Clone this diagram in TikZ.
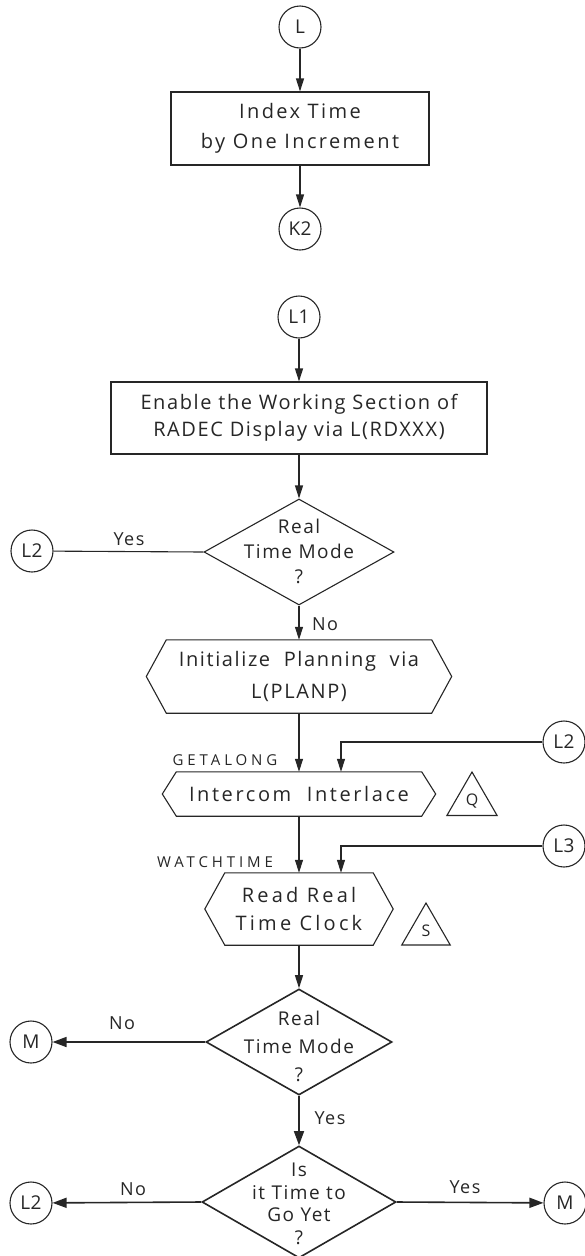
\documentclass[tikz,border=0pt]{standalone}
\usepackage{fontspec}
\setmainfont{Open Sans}[LetterSpace=8]
\usetikzlibrary{arrows.meta,shapes.geometric}

% outline of a process box with pointed left and right ends
\newcommand\hexframe[2]{%
  \draw[ink] (#1.north west) -- (#1.north east) -- ([xshift=#2pt]#1.east)
    -- (#1.south east) -- (#1.south west) -- ([xshift=-#2pt]#1.west) -- cycle;}

\begin{document}
\begin{tikzpicture}[x=1pt,y=-1pt,
  ink/.style={draw=black!85, line width=1.1pt},
  heavy/.style={line width=1.6pt},
  tip/.style={-{Triangle[length=13pt,width=8pt]}},
  bigtip/.style={-{Triangle[length=14pt,width=10pt]}},
  conn/.style={circle, ink, minimum size=42pt, inner sep=0pt, text=black!85,
    font=\fontsize{19}{20}\selectfont\addfontfeatures{LetterSpace=2}},
  box/.style={rectangle, ink, inner sep=0pt, align=center, text=black!85,
    font=\fontsize{20}{30}\selectfont},
  hexcore/.style={rectangle, inner sep=0pt, align=center, text=black!85,
    font=\fontsize{20}{30}\selectfont},
  dia/.style={diamond, ink, inner sep=0pt},
  diatext/.style={align=center, inner sep=0pt, text=black!85},
  lbl/.style={inner sep=0pt, text=black!85, font=\fontsize{18}{20}\selectfont},
  tag/.style={inner sep=0pt, text=black!85,
    font=\fontsize{15}{16}\selectfont\addfontfeatures{LetterSpace=26}},
  tri/.style={regular polygon, regular polygon sides=3, ink, inner sep=0pt,
    text=black!85, font=\fontsize{16}{18}\selectfont},
]
\useasboundingbox (0,0) rectangle (585,1256);

% ---- entry L ----
\node[conn] (L) at (300,27) {L};
\node[box, minimum width=258pt, minimum height=73pt,
  font=\fontsize{20}{30}\selectfont\addfontfeatures{LetterSpace=12}] (b1) at (300,128.5)
  {Index Time\\by One Increment};
\node[conn] (K2) at (300,229) {K2};
\draw[ink,tip] (L) -- (b1);
\draw[ink,tip] (b1) -- (K2);

% ---- entry L1 ----
\node[conn] (L1) at (299,317) {L1};
\node[box, minimum width=376pt, minimum height=72pt,
  font=\fontsize{20}{27}\selectfont] (b2) at (299,418)
  {Enable the Working Section of\\RADEC Display via L(RDXXX)};
\draw[ink,tip] (L1) -- (b2);

\node[dia, minimum width=190pt, minimum height=106pt] (d1) at (299,552) {};
\node[diatext, font=\fontsize{19}{25}\selectfont] (d1t) at (299,551)
  {Real\\Time Mode\\?};
\draw[ink,tip] (b2) -- (d1);

\node[conn] (L2a) at (32,551) {L2};
\draw[ink] (d1.west) -- (L2a);
\node[lbl] (yes1) at (129,539) {Yes};

\node[hexcore, minimum width=265pt, minimum height=73pt,
  font=\fontsize{20}{32}\selectfont] (h1) at (299,676.5)
  {Initialize\ \ Planning\ \ via\\L(PLANP)};
\hexframe{h1}{20}
\draw[ink,tip] (d1) -- (h1);
\node[lbl] (no1) at (325,624) {No};

% ---- GETALONG ----
\node[hexcore, minimum width=245pt, minimum height=44pt,
  font=\fontsize{20}{30}\selectfont\addfontfeatures{LetterSpace=13}] (h2) at (299,794)
  {Intercom\ \ Interlace};
\hexframe{h2}{14}
\node[tag] (getalong) at (225,760) {GETALONG};
\node[conn] (L2b) at (564,742) {L2};
\node[tri, minimum size=58pt] (Q) at (472,801) {Q};
\draw[ink,tip] (h1) -- (h2);
\draw[ink,tip] (L2b) -| ([xshift=42pt]h2.north);

% ---- WATCHTIME ----
\node[hexcore, minimum width=148pt, minimum height=72pt,
  font=\fontsize{20}{28}\selectfont\addfontfeatures{LetterSpace=16}] (h3) at (299,909)
  {Read Real\\Time Clock};
\hexframe{h3}{20}
\node[tag] (watchtime) at (215,862) {WATCHTIME};
\node[conn] (L3) at (564,846) {L3};
\node[tri, minimum size=56pt] (S) at (426,931) {S};
\draw[ink,tip] (h2) -- (h3);
\draw[ink,tip] (L3) -| ([xshift=42pt]h3.north);

% ---- real time test ----
\node[dia, heavy, minimum width=186pt, minimum height=106pt] (d2) at (299,1042) {};
\node[diatext, font=\fontsize{19}{28}\selectfont] (d2t) at (299,1046)
  {Real\\Time Mode\\?};
\draw[ink,tip] (h3) -- (d2);

\node[conn] (M1) at (31,1042) {M};
\draw[ink,heavy,bigtip] (d2.west) -- (M1);
\node[lbl] (no2) at (122,1023) {No};

% ---- time to go test ----
\node[dia, heavy, minimum width=194pt, minimum height=112pt] (d3) at (299,1202) {};
\node[diatext, font=\fontsize{19}{22.5}\selectfont] (d3t) at (299,1204)
  {Is\\it Time to\\Go Yet\\?};
\draw[ink,heavy,bigtip] (d2) -- (d3);
\node[lbl] (yes2) at (330,1118) {Yes};

\node[conn] (L2c) at (31,1203) {L2};
\node[conn] (M2) at (565,1203) {M};
\draw[ink,heavy,bigtip] (d3.west) -- (L2c);
\draw[ink,heavy,bigtip] (d3.east) -- (M2);
\node[lbl] (no3) at (133,1189) {No};
\node[lbl] (yes3) at (465,1187) {Yes};
\end{tikzpicture}
\end{document}
